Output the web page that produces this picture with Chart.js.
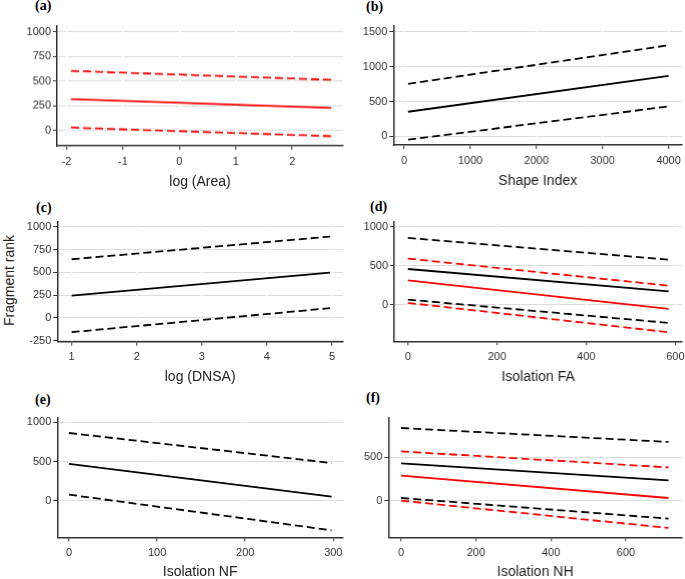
<!DOCTYPE html>
<html>
<head>
<meta charset="utf-8">
<script src="https://cdn.jsdelivr.net/npm/chart.js@4.4.1/dist/chart.umd.min.js"></script>
<style>
  html, body { margin: 0; padding: 0; background: #fff; width: 685px; height: 579px; overflow: hidden; }
  canvas { position: absolute; }
  .tag { position: absolute; font: bold 14px "Liberation Serif", "Times New Roman", serif; line-height: 14px; color: #000; }
  #ylab {
    position: absolute; left: -51px; top: 271.6px; width: 120px; text-align: center;
    font: 14px "Liberation Sans", Arial, sans-serif; line-height: 16.8px; color: #222;
    transform: rotate(-90deg);
  }
</style>
</head>
<body>
<div class="tag" style="left:35px;top:-1px">(a)</div>
<div class="tag" style="left:366px;top:-0.5px">(b)</div>
<div class="tag" style="left:36px;top:201px">(c)</div>
<div class="tag" style="left:370px;top:200px">(d)</div>
<div class="tag" style="left:35px;top:393px">(e)</div>
<div class="tag" style="left:366px;top:390.5px">(f)</div>
<div id="ylab">Fragment rank</div>

<canvas id="chartA"></canvas>
<canvas id="chartB"></canvas>
<canvas id="chartC"></canvas>
<canvas id="chartD"></canvas>
<canvas id="chartE"></canvas>
<canvas id="chartF"></canvas>

<script>
// (a) log (Area)
const areaX = [-1.92, 2.69];
const areaFit = [318, 230];
const areaUpper = [606, 515];
const areaLower = [30, -58];
const areaXTicks = [-2, -1, 0, 1, 2];
const areaYTicks = [0, 250, 500, 750, 1000];

// (b) Shape Index
const shapeX = [60, 4000];
const shapeFit = [353, 867];
const shapeUpper = [753, 1306];
const shapeLower = [-47, 429];
const shapeXTicks = [0, 1000, 2000, 3000, 4000];
const shapeYTicks = [0, 500, 1000, 1500];

// (c) log (DNSA)
const dnsaX = [1, 4.97];
const dnsaFit = [245, 498];
const dnsaUpper = [645, 895];
const dnsaLower = [-157, 107];
const dnsaXTicks = [1, 2, 3, 4, 5];
const dnsaYTicks = [-250, 0, 250, 500, 750, 1000];

// (d) Isolation FA
const faX = [0, 585];
const faFitBlack = [461, 174];
const faUpperBlack = [859, 581];
const faLowerBlack = [68, -231];
const faFitRed = [316, -51];
const faUpperRed = [594, 247];
const faLowerRed = [26, -351];
const faXTicks = [0, 200, 400, 600];
const faYTicks = [0, 500, 1000];

// (e) Isolation NF
const nfX = [0, 298];
const nfFit = [471, 55];
const nfUpper = [865, 483];
const nfLower = [80, -374];
const nfXTicks = [0, 100, 200, 300];
const nfYTicks = [0, 500, 1000];

// (f) Isolation NH
const nhX = [0, 714];
const nhFitBlack = [431, 236];
const nhUpperBlack = [837, 677];
const nhLowerBlack = [34, -203];
const nhFitRed = [290, 34];
const nhUpperRed = [569, 385];
const nhLowerRed = [3, -310];
const nhXTicks = [0, 200, 400, 600];
const nhYTicks = [0, 500];

const BLACK = '#000000';
const RED = '#ff0000';
const FONT = "'Liberation Sans', Arial, sans-serif";

function pts(xs, ys) {
    return xs.map((x, i) => ({ x, y: ys[i] }));
}

function line(xs, ys, color, dashed) {
    return {
        data: pts(xs, ys),
        borderColor: color,
        borderWidth: 1.8,
        borderDash: dashed ? [8, 4] : [],
        pointRadius: 0,
        fill: false,
        tension: 0
    };
}

function band(xs, fit, upper, lower, color) {
    return [
        line(xs, upper, color, true),
        line(xs, fit, color, false),
        line(xs, lower, color, true)
    ];
}

/**
 * Dibujar un panel: box da la posicion del area de trazado en la pagina
 */
function panel(id, box, xOpt, yOpt, datasets) {
    const canvas = document.getElementById(id);
    const top = box.plotTop - 10;
    const width = box.plotRight + 10 - box.left;
    const height = box.plotBottom + box.xh - top;
    canvas.width = width;
    canvas.height = height;
    canvas.style.left = box.left + 'px';
    canvas.style.top = top + 'px';
    canvas.style.width = width + 'px';
    canvas.style.height = height + 'px';

    const yw = box.axisX - box.left;

    new Chart(canvas, {
        type: 'line',
        data: { datasets },
        options: {
            responsive: false,
            animation: false,
            events: [],
            layout: { padding: { top: 10, right: 10, left: 0, bottom: 0 } },
            plugins: { legend: { display: false }, tooltip: { enabled: false } },
            scales: {
                x: {
                    type: 'linear',
                    min: xOpt.min,
                    max: xOpt.max,
                    afterBuildTicks: (s) => { s.ticks = xOpt.ticks.map(v => ({ value: v })); },
                    afterFit: (s) => { s.height = box.xh; },
                    grid: {
                        color: '#ffffff',
                        lineWidth: 1.5,
                        tickColor: '#333',
                        tickLength: 4,
                        tickWidth: 1,
                        z: -1
                    },
                    border: { display: true, color: '#333', width: 1.5 },
                    ticks: {
                        padding: 5,
                        color: '#333',
                        font: { family: FONT, size: 11 },
                        maxRotation: 0,
                        autoSkip: false,
                        callback: (v) => String(v)
                    },
                    title: {
                        display: true,
                        text: xOpt.title,
                        color: '#222',
                        font: { family: FONT, size: 14 },
                        padding: { top: 0, bottom: 2 }
                    }
                },
                y: {
                    type: 'linear',
                    min: yOpt.min,
                    max: yOpt.max,
                    afterBuildTicks: (s) => { s.ticks = yOpt.ticks.map(v => ({ value: v })); },
                    afterFit: (s) => { s.width = yw; },
                    grid: {
                        color: '#dcdcdc',
                        lineWidth: 1,
                        tickColor: '#333',
                        tickLength: 4,
                        tickWidth: 1,
                        z: -2
                    },
                    border: { display: true, color: '#333', width: 1.5 },
                    ticks: {
                        padding: 2,
                        color: '#333',
                        font: { family: FONT, size: 11 },
                        autoSkip: false,
                        callback: (v) => String(v)
                    }
                }
            }
        }
    });
}

panel('chartA',
    { left: 0, axisX: 57, plotTop: 26, plotBottom: 145.5, plotRight: 343, xh: 47 },
    { min: -2.17, max: 2.9, ticks: areaXTicks, title: 'log (Area)' },
    { min: -155, max: 1061, ticks: areaYTicks },
    band(areaX, areaFit, areaUpper, areaLower, RED));

panel('chartB',
    { left: 345, axisX: 393.3, plotTop: 26, plotBottom: 145.3, plotRight: 681.7, xh: 47 },
    { min: -162, max: 4203, ticks: shapeXTicks, title: 'Shape Index' },
    { min: -123, max: 1581, ticks: shapeYTicks },
    band(shapeX, shapeFit, shapeUpper, shapeLower, BLACK));

panel('chartC',
    { left: 0, axisX: 57.3, plotTop: 222.3, plotBottom: 342, plotRight: 343, xh: 46.4 },
    { min: 0.78, max: 5.17, ticks: dnsaXTicks, title: 'log (DNSA)' },
    { min: -261, max: 1055, ticks: dnsaYTicks },
    band(dnsaX, dnsaFit, dnsaUpper, dnsaLower, BLACK));

panel('chartD',
    { left: 345, axisX: 394, plotTop: 222.3, plotBottom: 341.7, plotRight: 681.7, xh: 46.7 },
    { min: -31, max: 615, ticks: faXTicks, title: 'Isolation FA' },
    { min: -467, max: 1064, ticks: faYTicks },
    band(faX, faFitBlack, faUpperBlack, faLowerBlack, BLACK)
        .concat(band(faX, faFitRed, faUpperRed, faLowerRed, RED)));

panel('chartE',
    { left: 0, axisX: 57.3, plotTop: 418.3, plotBottom: 537.7, plotRight: 343, xh: 45.7 },
    { min: -13.3, max: 311, ticks: nfXTicks, title: 'Isolation NF' },
    { min: -463, max: 1056, ticks: nfYTicks },
    band(nfX, nfFit, nfUpper, nfLower, BLACK));

panel('chartF',
    { left: 345, axisX: 388.3, plotTop: 418.3, plotBottom: 537.7, plotRight: 681.7, xh: 45.7 },
    { min: -34, max: 750, ticks: nhXTicks, title: 'Isolation NH' },
    { min: -417, max: 952, ticks: nhYTicks },
    band(nhX, nhFitBlack, nhUpperBlack, nhLowerBlack, BLACK)
        .concat(band(nhX, nhFitRed, nhUpperRed, nhLowerRed, RED)));
</script>
</body>
</html>
